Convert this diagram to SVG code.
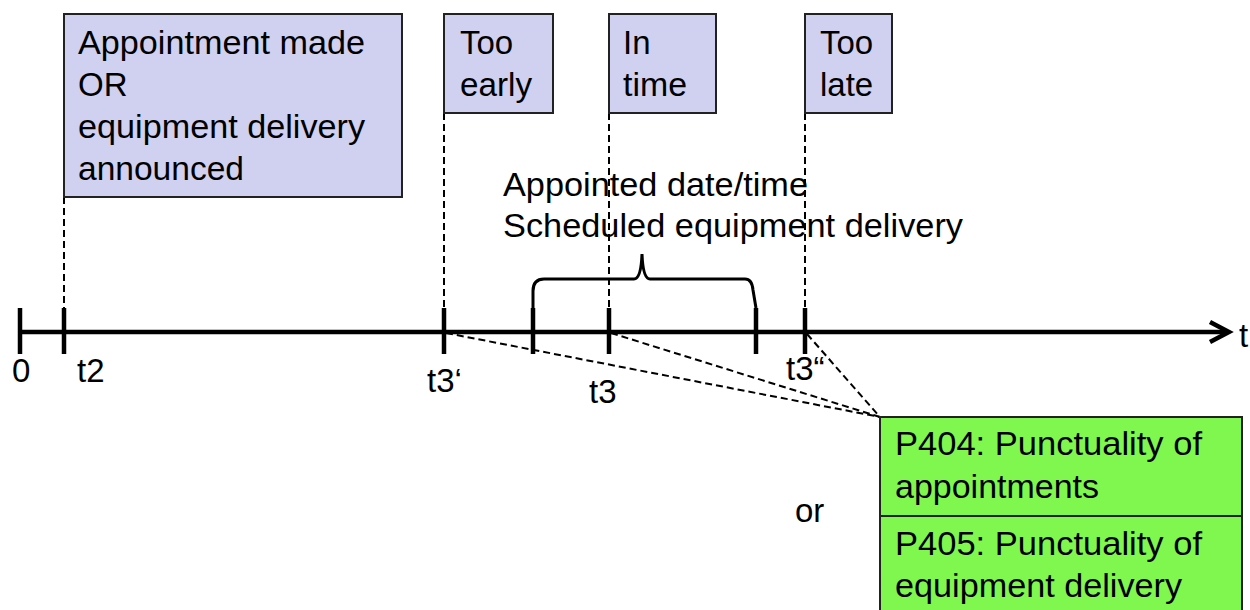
<svg xmlns="http://www.w3.org/2000/svg" width="1250" height="610" viewBox="0 0 1250 610">
<style>
text{font-family:"Liberation Sans",Arial,sans-serif;font-size:33px;fill:#000}
.lav{fill:#d0d0f0;stroke:#222;stroke-width:2}
.grn{fill:#7ff74f;stroke:#222;stroke-width:2}
.dash{stroke:#000;stroke-width:2;stroke-dasharray:7 4;fill:none}
.tick{stroke:#000;stroke-width:4.5}
</style>
<rect width="1250" height="610" fill="#fff"/>
<g id="connectors">
<line class="dash" x1="64" y1="197" x2="64" y2="308"/>
<line class="dash" x1="444" y1="113" x2="444" y2="308"/>
<line class="dash" x1="609" y1="113" x2="609" y2="308"/>
<line class="dash" x1="805" y1="113" x2="805" y2="308"/>
<line class="dash" x1="446" y1="333" x2="880" y2="417"/>
<line class="dash" x1="611" y1="333" x2="880" y2="417"/>
<line class="dash" x1="807" y1="334" x2="880" y2="417"/>
</g>
<g id="axis">
<line x1="20" y1="332" x2="1226" y2="332" stroke="#000" stroke-width="4.5"/>
<polyline points="1210,322 1229,332 1210,342" fill="none" stroke="#000" stroke-width="4.5" stroke-linejoin="miter"/>
<line class="tick" x1="20" y1="308" x2="20" y2="354"/>
<line class="tick" x1="64" y1="308" x2="64" y2="354"/>
<line class="tick" x1="444" y1="308" x2="444" y2="354"/>
<line class="tick" x1="533" y1="308" x2="533" y2="354"/>
<line class="tick" x1="609" y1="308" x2="609" y2="354"/>
<line class="tick" x1="756" y1="308" x2="756" y2="354"/>
<line class="tick" x1="805" y1="308" x2="805" y2="354"/>
<text x="12" y="382">0</text>
<text x="77" y="382">t2</text>
<text x="427" y="392">t3‘</text>
<text x="589" y="403">t3</text>
<text x="786" y="380">t3“</text>
<text x="1239" y="347">t</text>
</g>
<g id="brace">
<path d="M533,308 V291 Q533,279 544,279 H634 Q641,279 642,254 Q643,279 650,279 H745 Q752,279 753,290 L756,308" fill="none" stroke="#000" stroke-width="3"/>
<text x="503" y="196" textLength="305" lengthAdjust="spacingAndGlyphs">Appointed date/time</text>
<text x="503" y="237" textLength="460" lengthAdjust="spacingAndGlyphs">Scheduled equipment delivery</text>
</g>
<g id="box-appointment">
<rect class="lav" x="64" y="14" width="338" height="183"/>
<text x="78" y="54" textLength="287" lengthAdjust="spacingAndGlyphs">Appointment made</text>
<text x="78" y="96">OR</text>
<text x="78" y="138" textLength="287" lengthAdjust="spacingAndGlyphs">equipment delivery</text>
<text x="78" y="180" textLength="166" lengthAdjust="spacingAndGlyphs">announced</text>
</g>
<g id="box-too-early">
<rect class="lav" x="444" y="14" width="109" height="99"/>
<text x="460" y="54">Too</text>
<text x="460" y="96" textLength="72" lengthAdjust="spacingAndGlyphs">early</text>
</g>
<g id="box-in-time">
<rect class="lav" x="609" y="14" width="107" height="99"/>
<text x="623" y="54">In</text>
<text x="623" y="96" textLength="64" lengthAdjust="spacingAndGlyphs">time</text>
</g>
<g id="box-too-late">
<rect class="lav" x="805" y="14" width="87" height="99"/>
<text x="820" y="54">Too</text>
<text x="820" y="96">late</text>
</g>
<g id="box-p404">
<rect class="grn" x="880" y="417" width="362" height="99"/>
<text x="895" y="455" textLength="307" lengthAdjust="spacingAndGlyphs">P404: Punctuality of</text>
<text x="895" y="498" textLength="204" lengthAdjust="spacingAndGlyphs">appointments</text>
</g>
<g id="box-p405">
<rect class="grn" x="880" y="516" width="362" height="100"/>
<text x="895" y="555" textLength="307" lengthAdjust="spacingAndGlyphs">P405: Punctuality of</text>
<text x="895" y="597" textLength="287" lengthAdjust="spacingAndGlyphs">equipment delivery</text>
</g>
<text x="795" y="522">or</text>
</svg>
